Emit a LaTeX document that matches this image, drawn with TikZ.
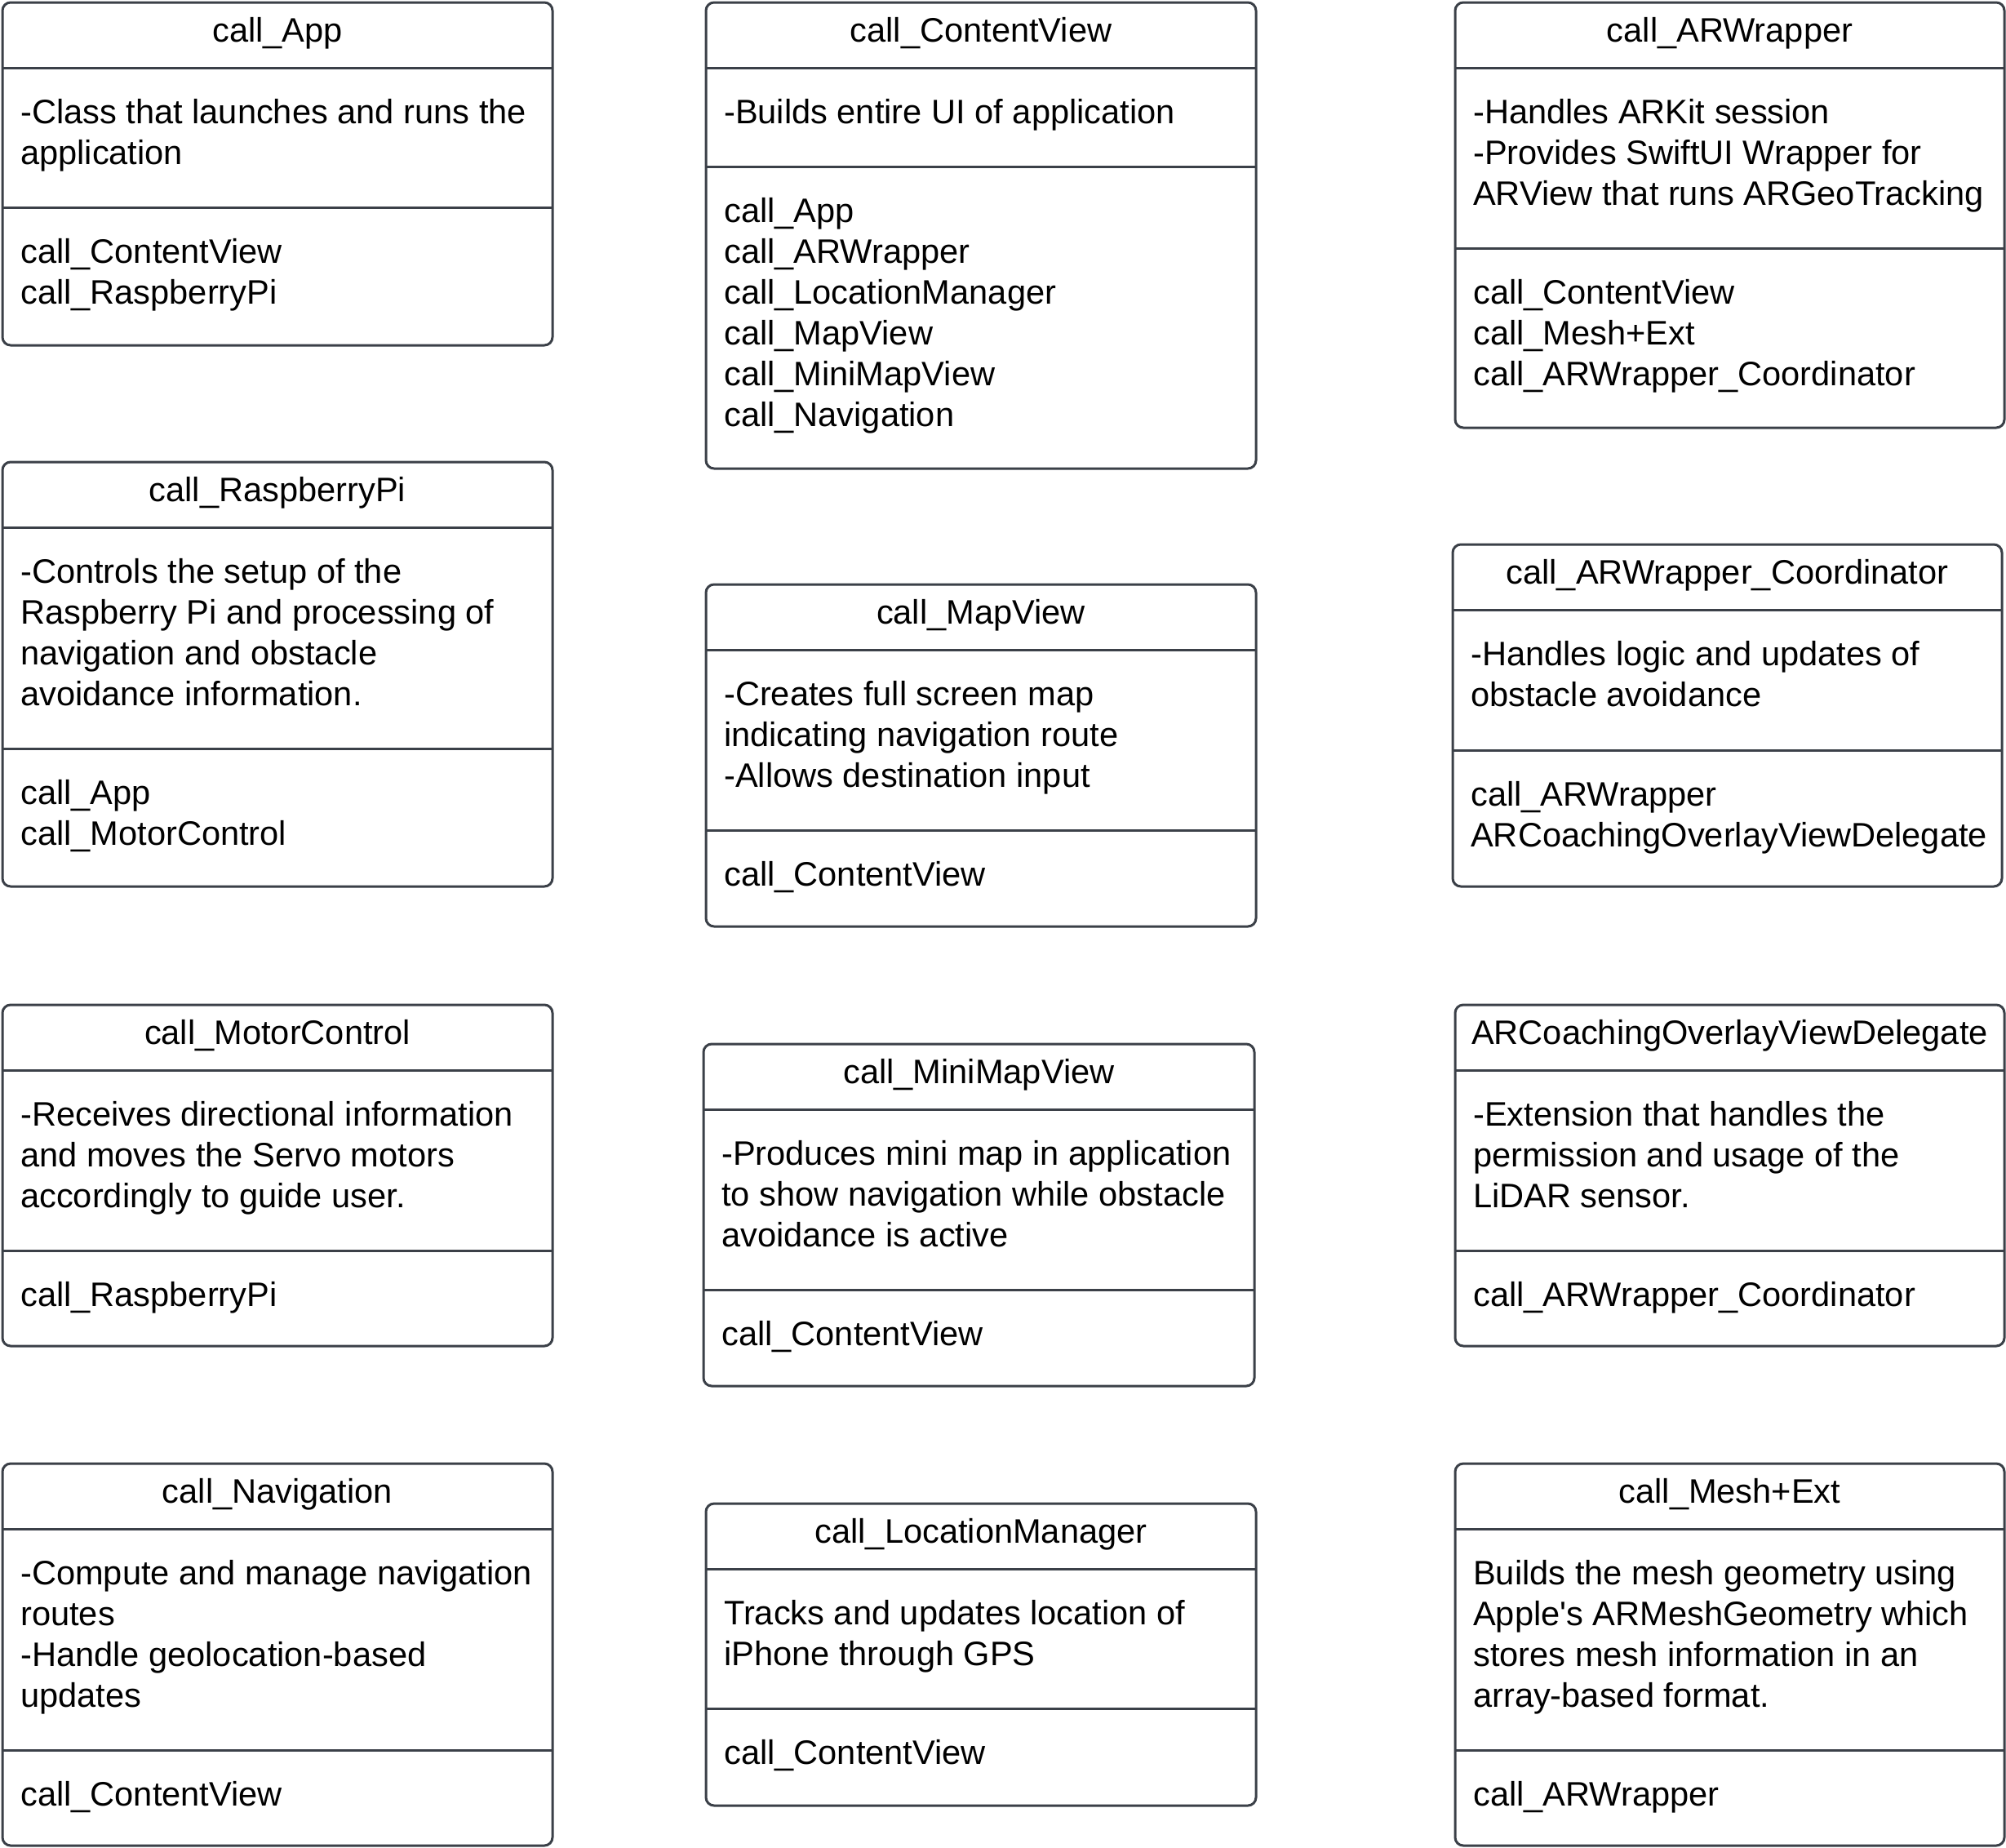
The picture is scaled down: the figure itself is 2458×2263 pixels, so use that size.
\documentclass[tikz,border=0pt]{standalone}
\usepackage{fontspec}
\setmainfont{Liberation Sans}[Ligatures=TeXOff]
\definecolor{boxline}{RGB}{59,64,72}
\tikzset{
  umlframe/.style={draw=boxline, line width=3pt, rounded corners=10pt, fill=white},
  umlsep/.style={draw=boxline, line width=3pt},
  umltitle/.style={anchor=base, inner sep=0pt, font=\fontsize{41.6}{50}\selectfont},
  umltext/.style={anchor=north west, inner sep=0pt, align=left, font=\fontsize{41.6}{50}\selectfont},
}
\newcommand\umlbox[9]{%
  \draw[umlframe] (#2,#4) rectangle (#3,#6);
  \draw[umlsep] (#2,{#4+80.5}) -- (#3,{#4+80.5});
  \draw[umlsep] (#2,#5) -- (#3,#5);
  \node[umltitle] (#1-title) at ({(#2+#3)/2},{#4+48}) {#7};
  \node[umltext] (#1-body) at ({#2+22},{#4+80.5+33}) {\strut #8};
  \node[umltext] (#1-refs) at ({#2+22},{#5+33}) {\strut #9};
}
\begin{document}
\begin{tikzpicture}[x=1pt,y=-1pt]
\useasboundingbox (0,0) rectangle (2458,2263);
% column 1
\umlbox{app}{3}{677}{3}{254}{423}{call\_App}
  {-Class that launches and runs the\\application}
  {call\_ContentView\\call\_RaspberryPi}
\umlbox{rpi}{3}{677}{566}{917}{1086}{call\_RaspberryPi}
  {-Controls the setup of the\\Raspberry Pi and processing of\\navigation and obstacle\\avoidance information.}
  {call\_App\\call\_MotorControl}
\umlbox{motor}{3}{677}{1231}{1532}{1649}{call\_MotorControl}
  {-Receives directional information\\and moves the Servo motors\\accordingly to guide user.}
  {call\_RaspberryPi}
\umlbox{nav}{3}{677}{1793}{2144}{2261}{call\_Navigation}
  {-Compute and manage navigation\\routes\\-Handle geolocation-based\\updates}
  {call\_ContentView}
% column 2
\umlbox{content}{865}{1539}{3}{204}{574}{call\_ContentView}
  {-Builds entire UI of application}
  {call\_App\\call\_ARWrapper\\call\_LocationManager\\call\_MapView\\call\_MiniMapView\\call\_Navigation}
\umlbox{map}{865}{1539}{716}{1017}{1135}{call\_MapView}
  {-Creates full screen map\\indicating navigation route\\-Allows destination input}
  {call\_ContentView}
\umlbox{minimap}{862}{1537}{1279}{1580}{1698}{call\_MiniMapView}
  {-Produces mini map in application\\to show navigation while obstacle\\avoidance is active}
  {call\_ContentView}
\umlbox{loc}{865}{1539}{1842}{2093}{2212}{call\_LocationManager}
  {Tracks and updates location of\\iPhone through GPS}
  {call\_ContentView}
% column 3
\umlbox{arw}{1783}{2456}{3}{304}{524}{call\_ARWrapper}
  {-Handles ARKit session\\-Provides SwiftUI Wrapper for\\ARView that runs ARGeoTracking}
  {call\_ContentView\\call\_Mesh+Ext\\call\_ARWrapper\_Coordinator}
\umlbox{coord}{1780}{2453}{667}{919}{1086}{call\_ARWrapper\_Coordinator}
  {-Handles logic and updates of\\obstacle avoidance}
  {call\_ARWrapper\\ARCoachingOverlayViewDelegate}
\umlbox{coach}{1783}{2456}{1231}{1532}{1649}{ARCoachingOverlayViewDelegate}
  {-Extension that handles the\\permission and usage of the\\LiDAR sensor.}
  {call\_ARWrapper\_Coordinator}
\umlbox{mesh}{1783}{2456}{1793}{2144}{2261}{call\_Mesh+Ext}
  {Builds the mesh geometry using\\Apple's ARMeshGeometry which\\stores mesh information in an\\array-based format.}
  {call\_ARWrapper}
\end{tikzpicture}
\end{document}
